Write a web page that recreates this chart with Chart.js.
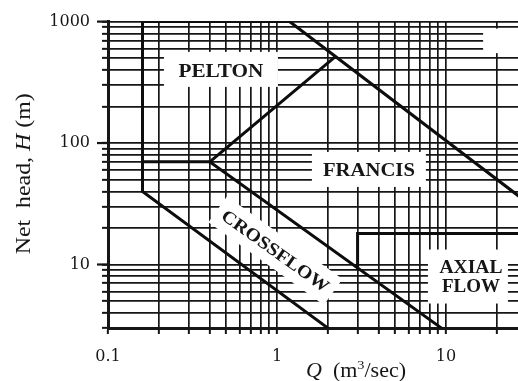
<!DOCTYPE html>
<html><head><meta charset="utf-8">
<script src="https://cdn.jsdelivr.net/npm/chart.js@4/dist/chart.umd.min.js"></script>
<style>html,body{margin:0;padding:0;background:#fff}#wrap{width:518px;height:381px;position:relative}</style>
</head><body><div id="wrap"><canvas id="c"></canvas></div>
<script>
// ---- data ----
const xTickValues = [0.1,0.2,0.3,0.4,0.5,0.6,0.7,0.8,0.9,1,2,3,4,5,6,7,8,9,10,20];
const yTickValues = [3,4,5,6,7,8,9,10,20,30,40,50,60,70,80,90,100,200,300,400,500,600,700,800,900,1000];
const xLabelValues = [0.1,1,10];
const yLabelValues = [10,100,1000];
const xRange = [0.1, 26.7];
const yRange = [3, 1000];

const peltonQ = [1.19, 0.16, 0.16, 2.0];
const peltonH = [1000, 1000, 40, 3];
const crossflowQ = [0.16, 0.4, 9.4];
const crossflowH = [70, 70, 3];
const francisLowQ = [0.4, 2.2];
const francisLowH = [70, 510];
const francisHighQ = [1.19, 26.7];
const francisHighH = [1000, 37];
const axialQ = [3, 3, 26.7];
const axialH = [9.3, 18, 18];

const regionNames = ['PELTON', 'FRANCIS', 'CROSSFLOW', 'AXIAL', 'FLOW'];
const regionQ = [0.466, 3.5, 0.98, 14.06, 14.06];
const regionH = [389, 59.5, 13.0, 9.6, 6.6];
const blankBoxQ = [16.6, 30];
const blankBoxH = [550, 875];

// ---- styles ----
const INK = '#161616';
const labelWidths = {PELTON:85, FRANCIS:92, CROSSFLOW:128, AXIAL:63, FLOW:58};
const labelBoxes = {PELTON:{w:114,h:35,dy:-2}, FRANCIS:{w:114,h:35,dy:-1}, CROSSFLOW:{w:142,h:32,dy:0}, AXIAL:{w:80,h:54,dy:0}};

function pts(qs, hs){ return qs.map((q,i)=>({x:q, y:hs[i]})); }
const lineSets = [[peltonQ,peltonH],[crossflowQ,crossflowH],[francisLowQ,francisLowH],[francisHighQ,francisHighH],[axialQ,axialH]];

function drawFit(ctx, segs, cx, cy, targetW, angle){
  let total = 0;
  segs.forEach(s=>{ ctx.font = s.font; s.w = ctx.measureText(s.text).width; total += s.w; });
  ctx.save();
  ctx.translate(cx, cy); ctx.rotate(angle); ctx.scale(targetW/total, 1);
  ctx.fillStyle = INK; ctx.textAlign = 'left'; ctx.textBaseline = 'alphabetic';
  let x = -total/2;
  segs.forEach(s=>{ ctx.font = s.font; ctx.fillText(s.text, x, s.dy||0); x += s.w; });
  ctx.restore();
}

function crossAngle(xs, ys){
  const a = xs.getPixelForValue(crossflowQ[1]), b = ys.getPixelForValue(crossflowH[1]);
  const c = xs.getPixelForValue(crossflowQ[2]), d = ys.getPixelForValue(crossflowH[2]);
  return Math.atan2(d-b, c-a);
}

const decor = {
  id: 'decor',
  beforeDatasetsDraw(chart){
    const ctx = chart.ctx, xs = chart.scales.x, ys = chart.scales.y;
    ctx.save(); ctx.fillStyle = '#fff';
    const ang = crossAngle(xs, ys);
    ['PELTON','FRANCIS','CROSSFLOW'].forEach(n=>{
      const i = regionNames.indexOf(n), b = labelBoxes[n];
      const cx = xs.getPixelForValue(regionQ[i]), cy = ys.getPixelForValue(regionH[i]);
      ctx.save(); ctx.translate(cx, cy); if (n==='CROSSFLOW') ctx.rotate(ang);
      ctx.fillRect(-b.w/2, -b.h/2 + b.dy, b.w, b.h); ctx.restore();
    });
    {
      const b = labelBoxes.AXIAL;
      const cx = xs.getPixelForValue(regionQ[3]) - 3;
      const cy = (ys.getPixelForValue(regionH[3]) + ys.getPixelForValue(regionH[4]))/2;
      ctx.fillRect(cx - b.w/2, cy - b.h/2 + b.dy, b.w, b.h);
    }
    const bx0 = xs.getPixelForValue(blankBoxQ[0]), bx1 = xs.getPixelForValue(blankBoxQ[1]);
    const by0 = ys.getPixelForValue(blankBoxH[1]), by1 = ys.getPixelForValue(blankBoxH[0]);
    ctx.fillRect(bx0, by0, bx1-bx0, by1-by0);
    ctx.restore();
  },
  afterDatasetsDraw(chart){
    const ctx = chart.ctx, xs = chart.scales.x, ys = chart.scales.y;
    const bold = 'bold 18px "Liberation Serif"';
    const ang = crossAngle(xs, ys);
    regionNames.forEach((n,i)=>{
      const cx = xs.getPixelForValue(regionQ[i]), cy = ys.getPixelForValue(regionH[i]);
      if (n==='CROSSFLOW'){
        ctx.save(); ctx.translate(cx, cy); ctx.rotate(ang);
        drawFit(ctx, [{text:n, font:bold}], 0, 6, labelWidths[n], 0);
        ctx.restore();
      } else {
        drawFit(ctx, [{text:n, font:bold}], cx, cy + 6, labelWidths[n], 0);
      }
    });
    // longer major ticks on the y axis
    ctx.save(); ctx.strokeStyle = INK; ctx.lineWidth = 2.2;
    yLabelValues.forEach(v=>{
      const y = ys.getPixelForValue(v);
      ctx.beginPath(); ctx.moveTo(ys.right - 11, y); ctx.lineTo(ys.right, y); ctx.stroke();
    });
    ctx.restore();
    // axis titles
    const rf = '20px "Liberation Serif"', itf = 'italic 20px "Liberation Serif"';
    ctx.save(); ctx.translate(30, (chart.chartArea.top + chart.chartArea.bottom)/2 - 1); ctx.rotate(-Math.PI/2);
    drawFit(ctx, [{text:'Net  head, ', font:rf},{text:'H', font:itf},{text:' (m)', font:rf}], 0, 0, 161, 0);
    ctx.restore();
    drawFit(ctx, [{text:'Q', font:itf},{text:'  (m', font:rf},{text:'3', font:'13px "Liberation Serif"', dy:-8},{text:'/sec)', font:rf}], 356, 377, 100, 0);
  }
};

const gridOpts = {color: INK, lineWidth: 1.7, tickColor: INK, tickWidth: 2, drawTicks: true};
const tickFont = {family: '"DejaVu Serif"', size: 16};

new Chart(document.getElementById('c'), {
  type: 'scatter',
  data: {
    datasets: lineSets.map(([q,h])=>({
      data: pts(q,h), showLine: true, borderColor: '#0d0d0d', borderWidth: 3,
      pointRadius: 0, fill: false, tension: 0, borderCapStyle: 'square', borderJoinStyle: 'miter'
    }))
  },
  options: {
    responsive: true, maintainAspectRatio: false, animation: false,
    layout: {padding: {top: 19, right: 0, bottom: 0, left: 0}},
    plugins: {legend: {display: false}, tooltip: {enabled: false}},
    scales: {
      x: {
        type: 'logarithmic', position: 'bottom', min: xRange[0], max: xRange[1],
        afterBuildTicks: s => { s.ticks = xTickValues.map(v=>({value:v})); },
        afterFit: s => { s.height = 53; },
        grid: Object.assign({}, gridOpts, {tickLength: 6}),
        border: {color: INK, width: 3},
        ticks: {autoSkip: false, maxRotation: 0, padding: 13, font: tickFont, color: INK,
          callback: v => xLabelValues.includes(v) ? String(v) : ''}
      },
      y: {
        type: 'logarithmic', position: 'left', min: yRange[0], max: yRange[1],
        afterBuildTicks: s => { s.ticks = yTickValues.map(v=>({value:v})); },
        afterFit: s => { s.width = 108; },
        grid: Object.assign({}, gridOpts, {tickLength: 6}),
        border: {color: INK, width: 3},
        ticks: {autoSkip: false, padding: 12, font: tickFont, color: INK,
          callback: v => yLabelValues.includes(v) ? String(v) : ''}
      }
    }
  },
  plugins: [decor]
});
</script></body></html>
